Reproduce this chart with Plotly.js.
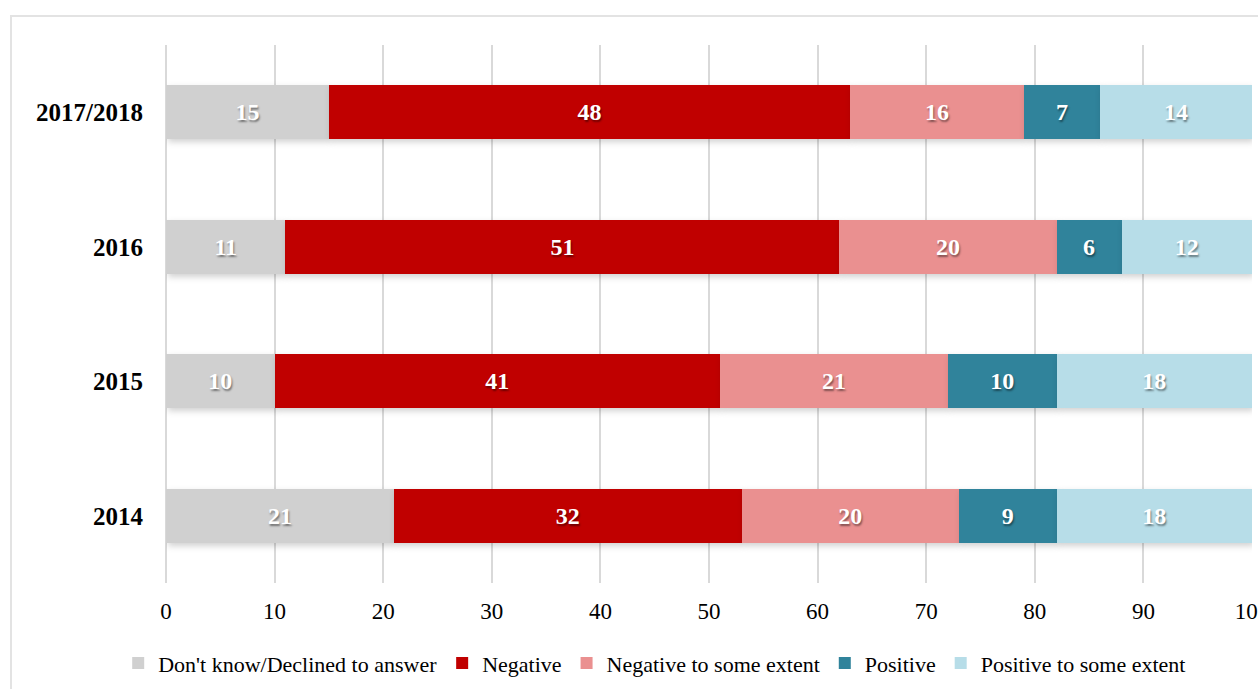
<!DOCTYPE html>
<html>
<head>
<meta charset="utf-8">
<script src="https://cdn.plot.ly/plotly-3.0.1.min.js"></script>
<style>
  html, body { margin: 0; padding: 0; background: #ffffff; }
  #wrap { position: relative; width: 1258px; height: 689px; overflow: hidden; }
  #frame { position: absolute; left: 10px; top: 15px; width: 1300px; height: 700px;
           border: 2px solid #e3e3e3; box-sizing: border-box; pointer-events: none; }
  #chart { position: absolute; left: 0; top: 0; width: 1258px; height: 689px; }
  #chart .trace.bars .point path { filter: drop-shadow(2px 3px 3px rgba(0,0,0,0.18)); }
</style>
</head>
<body>
<div id="wrap">
  <div id="chart"></div>
  <div id="frame"></div>
</div>
<script>
const categories = ['2014', '2015', '2016', '2017/2018'];
const seriesNames = ["Don't know/Declined to answer", 'Negative', 'Negative to some extent', 'Positive', 'Positive to some extent'];
const dontKnow      = [21, 10, 11, 15];
const negative      = [32, 41, 51, 48];
const negativeSome  = [20, 21, 20, 16];
const positive      = [9, 10, 6, 7];
const positiveSome  = [18, 18, 12, 14];
const xTickVals = [0, 10, 20, 30, 40, 50, 60, 70, 80, 90, 100];
const colors = ['#d0d0d0', '#c00000', '#ea9090', '#30839b', '#b7dde8'];

const seriesValues = [dontKnow, negative, negativeSome, positive, positiveSome];
const serif = 'Liberation Serif, Times New Roman, serif';

const traces = seriesValues.map((vals, i) => ({
  type: 'bar',
  orientation: 'h',
  name: seriesNames[i],
  y: categories,
  x: vals,
  marker: { color: colors[i], line: { width: 0 } },
  text: vals.map(String),
  texttemplate: '%{text}',
  textposition: 'inside',
  insidetextanchor: 'middle',
  textangle: 0,
  constraintext: 'none',
  textfont: { family: serif, size: 24, color: '#ffffff', weight: 'bold',
              shadow: '1px 2px 2px rgba(0,0,0,0.45)' },
  hoverinfo: 'x+name'
}));

const layout = {
  width: 1258,
  height: 689,
  barmode: 'stack',
  bargap: 0.6,
  paper_bgcolor: 'rgba(0,0,0,0)',
  plot_bgcolor: 'rgba(0,0,0,0)',
  margin: { l: 166, r: 6, t: 45, b: 106, autoexpand: false },
  font: { family: serif, color: '#000000' },
  xaxis: {
    range: [0, 100],
    tickvals: xTickVals,
    ticktext: xTickVals.map(String),
    showgrid: true,
    gridcolor: '#d9d9d9',
    gridwidth: 2,
    zeroline: true,
    zerolinecolor: '#d9d9d9',
    zerolinewidth: 2,
    showline: false,
    ticks: '',
    ticklabelstandoff: 12,
    ticklabeloverflow: 'allow',
    tickfont: { family: serif, size: 23, color: '#000000' },
    automargin: false,
    fixedrange: true
  },
  yaxis: {
    type: 'category',
    categoryorder: 'array',
    categoryarray: categories,
    showgrid: false,
    zeroline: false,
    showline: false,
    ticks: '',
    ticklabelstandoff: 22,
    tickfont: { family: serif, size: 25, color: '#000000', weight: 'bold' },
    automargin: false,
    fixedrange: true
  },
  legend: {
    orientation: 'h',
    x: 0.45,
    xanchor: 'center',
    y: -0.11,
    yanchor: 'top',
    font: { family: serif, size: 22, color: '#000000' },
    traceorder: 'normal',
    itemwidth: 30
  },
  showlegend: true
};

Plotly.newPlot('chart', traces, layout, { displayModeBar: false, staticPlot: true });
</script>
</body>
</html>
